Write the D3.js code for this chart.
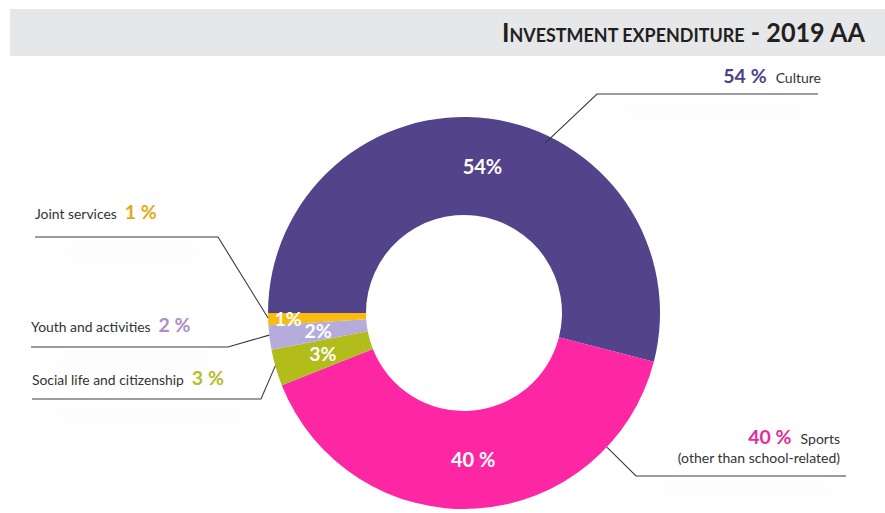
<!DOCTYPE html>
<html>
<head>
<meta charset="utf-8">
<script src="https://cdn.jsdelivr.net/npm/d3@7/dist/d3.min.js"></script>
<style>
  html, body { margin: 0; padding: 0; background: #fff; }
  svg { display: block; }
  text { font-family: Lato, "Open Sans", sans-serif; }
</style>
</head>
<body>
<svg id="chart" width="885" height="513"></svg>
<script>
// Investment expenditure shares by sector, 2019
const categories = ["Culture", "Sports", "Social life and citizenship", "Youth and activities", "Joint services"];
const values = [54, 40, 3, 2, 1];
const sliceColors = ["#52438a", "#fd27a3", "#b2bd1b", "#b6acdc", "#f9bb10"];
const labelColors = ["#4f3f87", "#e92a9c", "#b5bd25", "#b08dc6", "#e5a912"];
const innerSuffix = ["%", " %", "%", "%", "%"];
const sportsSubtitle = "(other than school-related)";
const titleParts = ["I", "NVESTMENT EXPENDITURE", " - 2019 AA"];

const svg = d3.select("#chart");
const W = 885, H = 513;
const cx = 464, cy = 313, rOuter = 196, rInner = 98;

// Title band
svg.append("rect").attr("x", 10).attr("y", 9).attr("width", W - 10).attr("height", 47)
  .attr("fill", "#e6e7e8");
const title = svg.append("text").attr("x", 865).attr("y", 42)
  .attr("text-anchor", "end").attr("fill", "#231f20")
  .attr("textLength", 363).attr("lengthAdjust", "spacingAndGlyphs")
  .style("font-family", "Lato, sans-serif").style("font-weight", "bold");
title.append("tspan").text(titleParts[0]).style("font-size", "26px");
title.append("tspan").text(titleParts[1]).style("font-size", "18.5px");
title.append("tspan").text(titleParts[2]).style("font-size", "26px");

// Soft shadow for callout rules
const defs = svg.append("defs");
defs.append("filter").attr("id", "soft").attr("x", "-20%").attr("y", "-300%")
  .attr("width", "140%").attr("height", "700%")
  .append("feGaussianBlur").attr("stdDeviation", 8);

const g = svg.append("g").attr("transform", `translate(${cx},${cy})`);

const pie = d3.pie().sort(null).value(d => d)
  .startAngle(-Math.PI / 2).endAngle(1.5 * Math.PI);
const arcs = pie(values);
const arc = d3.arc().innerRadius(rInner).outerRadius(rOuter);

g.selectAll("path.slice").data(arcs).join("path")
  .attr("class", "slice")
  .attr("d", arc)
  .attr("fill", (d, i) => sliceColors[i]);

// Value labels inside the ring
const labelRadius = [147, 147, 147, 147, 176];
g.selectAll("text.inner").data(arcs).join("text")
  .attr("class", "inner")
  .attr("transform", (d, i) => {
    const a = (d.startAngle + d.endAngle) / 2;
    const r = labelRadius[i];
    return `translate(${r * Math.sin(a)},${-r * Math.cos(a)})`;
  })
  .attr("text-anchor", "middle").attr("dy", "0.36em")
  .attr("fill", "#fff").style("font-weight", "bold")
  .style("font-size", (d, i) => i < 2 ? "20px" : "19.5px")
  .text((d, i) => d.value + innerSuffix[i]);

// Callouts: anchor on the slice (fraction of its sweep), elbow, rule end
const callouts = [
  { i: 0, frac: 0.594, r: 188, elbow: [597, 94], end: 818, side: "right", ty: 83 },
  { i: 1, frac: 0.20, r: 196, elbow: [636, 476], end: 846, side: "right", ty: 444 },
  { i: 2, frac: 0.55, r: 196, elbow: [261, 399], end: 32, side: "left", ty: 385 },
  { i: 3, frac: 0.6, r: 196, elbow: [228, 347], end: 31, side: "left", ty: 332 },
  { i: 4, frac: 0.6, r: 196, elbow: [218, 237], end: 35, side: "left", ty: 219 }
];

const lines = svg.append("g");
callouts.forEach(c => {
  const d = arcs[c.i];
  const a = d.startAngle + (d.endAngle - d.startAngle) * c.frac;
  const ax = cx + c.r * Math.sin(a), ay = cy - c.r * Math.cos(a);
  const x0 = Math.min(c.elbow[0], c.end), x1 = Math.max(c.elbow[0], c.end);
  lines.append("rect").attr("x", x0 + 25).attr("y", c.elbow[1] + 10)
    .attr("width", x1 - x0 - 40).attr("height", 10)
    .attr("fill", "#000").attr("opacity", 0.02).attr("filter", "url(#soft)");
  lines.append("path")
    .attr("d", d3.line()([[ax, ay], c.elbow, [c.end, c.elbow[1]]]))
    .attr("fill", "none").attr("stroke", "#3a3a3a").attr("stroke-width", 1.1);

  const pct = values[c.i] + " %";
  if (c.side === "left") {
    const t = svg.append("text").attr("x", c.end).attr("y", c.ty).style("font-size", "13.9px");
    t.append("tspan").text(categories[c.i]).attr("fill", "#333");
    t.append("tspan").text(pct).attr("dx", 8).attr("fill", labelColors[c.i])
      .style("font-weight", "bold").style("font-size", "19.5px");
  } else {
    const xr = c.i === 0 ? 821 : 840;
    const t = svg.append("text").attr("x", xr).attr("y", c.ty)
      .attr("text-anchor", "end").style("font-size", "14px");
    t.append("tspan").text(pct).attr("fill", labelColors[c.i])
      .style("font-weight", "bold").style("font-size", "19.5px");
    t.append("tspan").text(categories[c.i]).attr("dx", 9).attr("fill", "#333");
    if (c.i === 1) {
      svg.append("text").attr("x", xr).attr("y", c.ty + 19).attr("text-anchor", "end")
        .style("font-size", "14px").attr("fill", "#333").text(sportsSubtitle);
    }
  }
});
</script>
</body>
</html>
